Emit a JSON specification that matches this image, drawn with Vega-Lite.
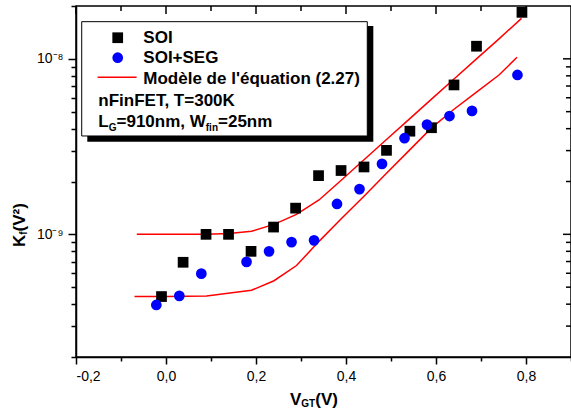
{
  "$schema": "https://vega.github.io/schema/vega-lite/v6.json",
  "width": 495,
  "height": 351,
  "autosize": {"type": "none"},
  "padding": {"left": 76, "top": 6, "right": 0, "bottom": 63},
  "background": "white",
  "config": {
    "view": {"stroke": "black", "strokeWidth": 1.5},
    "axis": {"grid": false, "domainColor": "black", "tickColor": "black", "labelColor": "black", "labelFont": "Liberation Sans", "domainWidth": 1.5, "tickWidth": 1.5}
  },
  "datasets": {
    "soi": [
      {"x": -0.010, "k": 4.42e-10}, {"x": 0.038, "k": 6.93e-10}, {"x": 0.089, "k": 1.0e-9}, {"x": 0.139, "k": 1.0e-9},
      {"x": 0.189, "k": 8.0e-10}, {"x": 0.239, "k": 1.10e-9}, {"x": 0.288, "k": 1.41e-9}, {"x": 0.339, "k": 2.16e-9},
      {"x": 0.389, "k": 2.31e-9}, {"x": 0.440, "k": 2.42e-9}, {"x": 0.490, "k": 3.01e-9}, {"x": 0.542, "k": 3.87e-9},
      {"x": 0.590, "k": 4.05e-9}, {"x": 0.640, "k": 7.10e-9}, {"x": 0.690, "k": 1.18e-8}, {"x": 0.791, "k": 1.84e-8}
    ],
    "seg": [
      {"x": -0.0215, "k": 3.96e-10}, {"x": 0.0296, "k": 4.46e-10}, {"x": 0.0785, "k": 5.97e-10}, {"x": 0.179, "k": 6.97e-10},
      {"x": 0.229, "k": 8.0e-10}, {"x": 0.279, "k": 9.03e-10}, {"x": 0.329, "k": 9.24e-10}, {"x": 0.38, "k": 1.49e-9},
      {"x": 0.43, "k": 1.81e-9}, {"x": 0.48, "k": 2.52e-9}, {"x": 0.53, "k": 3.53e-9}, {"x": 0.58, "k": 4.22e-9},
      {"x": 0.63, "k": 4.72e-9}, {"x": 0.68, "k": 5.05e-9}, {"x": 0.781, "k": 8.09e-9}
    ],
    "model": [
      {"curve": "SOI", "x": -0.065, "k": 1.0e-9}, {"curve": "SOI", "x": 0.0, "k": 1.0e-9}, {"curve": "SOI", "x": 0.09, "k": 1.0e-9},
      {"curve": "SOI", "x": 0.14, "k": 1.01e-9}, {"curve": "SOI", "x": 0.19, "k": 1.04e-9}, {"curve": "SOI", "x": 0.24, "k": 1.14e-9},
      {"curve": "SOI", "x": 0.29, "k": 1.30e-9}, {"curve": "SOI", "x": 0.34, "k": 1.57e-9}, {"curve": "SOI", "x": 0.39, "k": 2.04e-9},
      {"curve": "SOI", "x": 0.44, "k": 2.66e-9}, {"curve": "SOI", "x": 0.49, "k": 3.47e-9}, {"curve": "SOI", "x": 0.54, "k": 4.52e-9},
      {"curve": "SOI", "x": 0.59, "k": 5.89e-9}, {"curve": "SOI", "x": 0.64, "k": 7.67e-9}, {"curve": "SOI", "x": 0.69, "k": 1.0e-8},
      {"curve": "SOI", "x": 0.74, "k": 1.30e-8}, {"curve": "SOI", "x": 0.79, "k": 1.70e-8},
      {"curve": "SEG", "x": -0.07, "k": 4.42e-10}, {"curve": "SEG", "x": 0.0, "k": 4.43e-10}, {"curve": "SEG", "x": 0.09, "k": 4.45e-10},
      {"curve": "SEG", "x": 0.19, "k": 4.80e-10}, {"curve": "SEG", "x": 0.24, "k": 5.44e-10}, {"curve": "SEG", "x": 0.29, "k": 6.64e-10},
      {"curve": "SEG", "x": 0.34, "k": 9.12e-10}, {"curve": "SEG", "x": 0.39, "k": 1.23e-9}, {"curve": "SEG", "x": 0.44, "k": 1.65e-9},
      {"curve": "SEG", "x": 0.49, "k": 2.23e-9}, {"curve": "SEG", "x": 0.54, "k": 3.0e-9}, {"curve": "SEG", "x": 0.59, "k": 4.04e-9},
      {"curve": "SEG", "x": 0.64, "k": 5.16e-9}, {"curve": "SEG", "x": 0.69, "k": 6.46e-9}, {"curve": "SEG", "x": 0.74, "k": 8.09e-9},
      {"curve": "SEG", "x": 0.78, "k": 1.02e-8}
    ],
    "xmajor": [{"v": -0.2}, {"v": 0}, {"v": 0.2}, {"v": 0.4}, {"v": 0.6}, {"v": 0.8}],
    "xminor": [{"v": -0.1}, {"v": 0.1}, {"v": 0.3}, {"v": 0.5}, {"v": 0.7}],
    "ymajor": [{"v": 1e-9}, {"v": 1e-8}],
    "yminor": [{"v": 3e-10}, {"v": 4e-10}, {"v": 5e-10}, {"v": 6e-10}, {"v": 7e-10}, {"v": 8e-10}, {"v": 9e-10},
               {"v": 2e-9}, {"v": 3e-9}, {"v": 4e-9}, {"v": 5e-9}, {"v": 6e-9}, {"v": 7e-9}, {"v": 8e-9}, {"v": 9e-9}],
    "one": [{}]
  },
  "resolve": {"axis": {"x": "independent", "y": "independent"}},
  "layer": [
    {
      "data": {"name": "model"},
      "mark": {"type": "line", "color": "#ff0000", "strokeWidth": 1.5},
      "encoding": {
        "x": {"field": "x", "type": "quantitative", "scale": {"domain": [-0.2, 0.9]},
              "axis": {"orient": "bottom", "title": null,
                       "values": [-0.2, -0.1, 0, 0.1, 0.2, 0.3, 0.4, 0.5, 0.6, 0.7, 0.8, 0.9],
                       "tickSize": {"condition": {"test": "round(datum.value*10) % 2 != 0", "value": 4}, "value": 7},
                       "labelFontSize": 14, "labelPadding": 5,
                       "labelExpr": "round(datum.value*10) % 2 != 0 ? '' : replace(replace(format(datum.value, '.1f'), '.', ','), '−', '-')"}},
        "y": {"field": "k", "type": "quantitative", "scale": {"type": "log", "domain": [2e-10, 2e-8]},
              "axis": {"orient": "left", "title": null,
                       "values": [2e-10, 3e-10, 4e-10, 5e-10, 6e-10, 7e-10, 8e-10, 9e-10, 1e-9, 2e-9, 3e-9, 4e-9, 5e-9, 6e-9, 7e-9, 8e-9, 9e-9, 1e-8, 2e-8],
                       "tickSize": {"condition": {"test": "(datum.value > 0.99e-9 && datum.value < 1.01e-9) || (datum.value > 0.99e-8 && datum.value < 1.01e-8)", "value": 8}, "value": 5},
                       "labelFontSize": 14, "labelPadding": 5,
                       "labelExpr": "(datum.value > 0.99e-9 && datum.value < 1.01e-9) ? '10⁻⁹' : ((datum.value > 0.99e-8 && datum.value < 1.01e-8) ? '10⁻⁸' : '')"}},
        "detail": {"field": "curve"}
      }
    },
    {
      "data": {"name": "soi"},
      "mark": {"type": "point", "shape": "square", "filled": true, "color": "black", "size": 115, "opacity": 1},
      "encoding": {
        "x": {"field": "x", "type": "quantitative", "scale": {"domain": [-0.2, 0.9]}, "axis": null},
        "y": {"field": "k", "type": "quantitative", "scale": {"type": "log", "domain": [2e-10, 2e-8]}, "axis": null}
      }
    },
    {
      "data": {"name": "seg"},
      "mark": {"type": "circle", "color": "#0000ff", "size": 115, "opacity": 1},
      "encoding": {
        "x": {"field": "x", "type": "quantitative", "scale": {"domain": [-0.2, 0.9]}, "axis": null},
        "y": {"field": "k", "type": "quantitative", "scale": {"type": "log", "domain": [2e-10, 2e-8]}, "axis": null}
      }
    },
    {
      "data": {"name": "one"},
      "mark": {"type": "rect", "color": "black"},
      "encoding": {
        "x": {"datum": -0.1749, "type": "quantitative", "scale": {"domain": [-0.2, 0.9]}, "axis": null},
        "x2": {"datum": 0.4607},
        "y": {"datum": 1.538e-8, "type": "quantitative", "scale": {"type": "log", "domain": [2e-10, 2e-8]}, "axis": null},
        "y2": {"datum": 3.371e-9}
      }
    },
    {
      "data": {"name": "one"},
      "mark": {"type": "rect", "fill": "white", "stroke": "black", "strokeWidth": 1},
      "encoding": {
        "x": {"datum": -0.1873, "type": "quantitative", "scale": {"domain": [-0.2, 0.9]}, "axis": null},
        "x2": {"datum": 0.4473},
        "y": {"datum": 1.628e-8, "type": "quantitative", "scale": {"type": "log", "domain": [2e-10, 2e-8]}, "axis": null},
        "y2": {"datum": 3.634e-9}
      }
    },
    {
      "data": {"name": "one"},
      "mark": {"type": "point", "shape": "square", "filled": true, "color": "black", "size": 115, "opacity": 1},
      "encoding": {
        "x": {"datum": -0.1073, "type": "quantitative", "scale": {"domain": [-0.2, 0.9]}, "axis": null},
        "y": {"datum": 1.319e-8, "type": "quantitative", "scale": {"type": "log", "domain": [2e-10, 2e-8]}, "axis": null}
      }
    },
    {
      "data": {"name": "one"},
      "mark": {"type": "circle", "color": "#0000ff", "size": 115, "opacity": 1},
      "encoding": {
        "x": {"datum": -0.1073, "type": "quantitative", "scale": {"domain": [-0.2, 0.9]}, "axis": null},
        "y": {"datum": 1.0148e-8, "type": "quantitative", "scale": {"type": "log", "domain": [2e-10, 2e-8]}, "axis": null}
      }
    },
    {
      "data": {"name": "one"},
      "mark": {"type": "rule", "color": "#ff0000", "strokeWidth": 1.5},
      "encoding": {
        "x": {"datum": -0.152, "type": "quantitative", "scale": {"domain": [-0.2, 0.9]}, "axis": null},
        "x2": {"datum": -0.0653},
        "y": {"datum": 7.846e-9, "type": "quantitative", "scale": {"type": "log", "domain": [2e-10, 2e-8]}, "axis": null}
      }
    },
    {
      "data": {"name": "one"},
      "mark": {"type": "text", "font": "Liberation Sans", "fontWeight": "bold", "fontSize": 17, "align": "left", "baseline": "alphabetic", "color": "black"},
      "encoding": {
        "x": {"datum": -0.0504, "type": "quantitative", "scale": {"domain": [-0.2, 0.9]}, "axis": null},
        "y": {"datum": 1.2352e-8, "type": "quantitative", "scale": {"type": "log", "domain": [2e-10, 2e-8]}, "axis": null},
        "text": {"value": "SOI"}
      }
    },
    {
      "data": {"name": "one"},
      "mark": {"type": "text", "font": "Liberation Sans", "fontWeight": "bold", "fontSize": 17, "align": "left", "baseline": "alphabetic", "color": "black"},
      "encoding": {
        "x": {"datum": -0.0504, "type": "quantitative", "scale": {"domain": [-0.2, 0.9]}, "axis": null},
        "y": {"datum": 9.43e-9, "type": "quantitative", "scale": {"type": "log", "domain": [2e-10, 2e-8]}, "axis": null},
        "text": {"value": "SOI+SEG"}
      }
    },
    {
      "data": {"name": "one"},
      "mark": {"type": "text", "font": "Liberation Sans", "fontWeight": "bold", "fontSize": 17, "align": "left", "baseline": "alphabetic", "color": "black"},
      "encoding": {
        "x": {"datum": -0.0504, "type": "quantitative", "scale": {"domain": [-0.2, 0.9]}, "axis": null},
        "y": {"datum": 7.188e-9, "type": "quantitative", "scale": {"type": "log", "domain": [2e-10, 2e-8]}, "axis": null},
        "text": {"value": "Modèle de l'équation (2.27)"}
      }
    },
    {
      "data": {"name": "one"},
      "mark": {"type": "text", "font": "Liberation Sans", "fontWeight": "bold", "fontSize": 17, "align": "left", "baseline": "alphabetic", "color": "black"},
      "encoding": {
        "x": {"datum": -0.1504, "type": "quantitative", "scale": {"domain": [-0.2, 0.9]}, "axis": null},
        "y": {"datum": 5.363e-9, "type": "quantitative", "scale": {"type": "log", "domain": [2e-10, 2e-8]}, "axis": null},
        "text": {"value": "nFinFET, T=300K"}
      }
    },
    {
      "data": {"name": "one"},
      "mark": {"type": "text", "font": "Liberation Sans", "fontWeight": "bold", "fontSize": 17, "align": "left", "baseline": "alphabetic", "color": "black"},
      "encoding": {
        "x": {"datum": -0.1504, "type": "quantitative", "scale": {"domain": [-0.2, 0.9]}, "axis": null},
        "y": {"datum": 4.115e-9, "type": "quantitative", "scale": {"type": "log", "domain": [2e-10, 2e-8]}, "axis": null},
        "text": {"value": "L"}
      }
    },
    {
      "data": {"name": "one"},
      "mark": {"type": "text", "font": "Liberation Sans", "fontWeight": "bold", "fontSize": 10, "align": "left", "baseline": "alphabetic", "color": "black"},
      "encoding": {
        "x": {"datum": -0.1273, "type": "quantitative", "scale": {"domain": [-0.2, 0.9]}, "axis": null},
        "y": {"datum": 3.905e-9, "type": "quantitative", "scale": {"type": "log", "domain": [2e-10, 2e-8]}, "axis": null},
        "text": {"value": "G"}
      }
    },
    {
      "data": {"name": "one"},
      "mark": {"type": "text", "font": "Liberation Sans", "fontWeight": "bold", "fontSize": 17, "align": "left", "baseline": "alphabetic", "color": "black"},
      "encoding": {
        "x": {"datum": -0.11, "type": "quantitative", "scale": {"domain": [-0.2, 0.9]}, "axis": null},
        "y": {"datum": 4.115e-9, "type": "quantitative", "scale": {"type": "log", "domain": [2e-10, 2e-8]}, "axis": null},
        "text": {"value": "=910nm, W"}
      }
    },
    {
      "data": {"name": "one"},
      "mark": {"type": "text", "font": "Liberation Sans", "fontWeight": "bold", "fontSize": 10, "align": "left", "baseline": "alphabetic", "color": "black"},
      "encoding": {
        "x": {"datum": 0.0884, "type": "quantitative", "scale": {"domain": [-0.2, 0.9]}, "axis": null},
        "y": {"datum": 3.905e-9, "type": "quantitative", "scale": {"type": "log", "domain": [2e-10, 2e-8]}, "axis": null},
        "text": {"value": "fin"}
      }
    },
    {
      "data": {"name": "one"},
      "mark": {"type": "text", "font": "Liberation Sans", "fontWeight": "bold", "fontSize": 17, "align": "left", "baseline": "alphabetic", "color": "black"},
      "encoding": {
        "x": {"datum": 0.1156, "type": "quantitative", "scale": {"domain": [-0.2, 0.9]}, "axis": null},
        "y": {"datum": 4.115e-9, "type": "quantitative", "scale": {"type": "log", "domain": [2e-10, 2e-8]}, "axis": null},
        "text": {"value": "=25nm"}
      }
    },
    {
      "data": {"name": "one"},
      "mark": {"type": "text", "font": "Liberation Sans", "fontWeight": "bold", "fontSize": 17, "align": "left", "baseline": "alphabetic", "color": "black"},
      "encoding": {
        "x": {"datum": 0.2756, "type": "quantitative", "scale": {"domain": [-0.2, 0.9]}, "axis": null},
        "y": {"datum": 1.0654e-10, "type": "quantitative", "scale": {"type": "log", "domain": [2e-10, 2e-8]}, "axis": null},
        "text": {"value": "V"}
      }
    },
    {
      "data": {"name": "one"},
      "mark": {"type": "text", "font": "Liberation Sans", "fontWeight": "bold", "fontSize": 10, "align": "left", "baseline": "alphabetic", "color": "black"},
      "encoding": {
        "x": {"datum": 0.3007, "type": "quantitative", "scale": {"domain": [-0.2, 0.9]}, "axis": null},
        "y": {"datum": 1.0377e-10, "type": "quantitative", "scale": {"type": "log", "domain": [2e-10, 2e-8]}, "axis": null},
        "text": {"value": "GT"}
      }
    },
    {
      "data": {"name": "one"},
      "mark": {"type": "text", "font": "Liberation Sans", "fontWeight": "bold", "fontSize": 17, "align": "left", "baseline": "alphabetic", "color": "black"},
      "encoding": {
        "x": {"datum": 0.3316, "type": "quantitative", "scale": {"domain": [-0.2, 0.9]}, "axis": null},
        "y": {"datum": 1.0654e-10, "type": "quantitative", "scale": {"type": "log", "domain": [2e-10, 2e-8]}, "axis": null},
        "text": {"value": "(V)"}
      }
    },
    {
      "data": {"name": "one"},
      "mark": {"type": "text", "font": "Liberation Sans", "fontWeight": "bold", "fontSize": 17, "align": "left", "baseline": "alphabetic", "angle": 270, "color": "black"},
      "encoding": {
        "x": {"datum": -0.3133, "type": "quantitative", "scale": {"domain": [-0.2, 0.9]}, "axis": null},
        "y": {"datum": 8.467e-10, "type": "quantitative", "scale": {"type": "log", "domain": [2e-10, 2e-8]}, "axis": null},
        "text": {"value": "K"}
      }
    },
    {
      "data": {"name": "one"},
      "mark": {"type": "text", "font": "Liberation Sans", "fontWeight": "bold", "fontSize": 10, "align": "left", "baseline": "alphabetic", "angle": 270, "color": "black"},
      "encoding": {
        "x": {"datum": -0.3089, "type": "quantitative", "scale": {"domain": [-0.2, 0.9]}, "axis": null},
        "y": {"datum": 9.951e-10, "type": "quantitative", "scale": {"type": "log", "domain": [2e-10, 2e-8]}, "axis": null},
        "text": {"value": "f"}
      }
    },
    {
      "data": {"name": "one"},
      "mark": {"type": "text", "font": "Liberation Sans", "fontWeight": "bold", "fontSize": 17, "align": "left", "baseline": "alphabetic", "angle": 270, "color": "black"},
      "encoding": {
        "x": {"datum": -0.3133, "type": "quantitative", "scale": {"domain": [-0.2, 0.9]}, "axis": null},
        "y": {"datum": 1.0392e-9, "type": "quantitative", "scale": {"type": "log", "domain": [2e-10, 2e-8]}, "axis": null},
        "text": {"value": "(V²)"}
      }
    },
    {
      "data": {"name": "xmajor"},
      "mark": {"type": "rule", "color": "black", "strokeWidth": 1.5},
      "encoding": {
        "x": {"field": "v", "type": "quantitative", "scale": {"domain": [-0.2, 0.9]}, "axis": null},
        "y": {"datum": 2e-8, "type": "quantitative", "scale": {"type": "log", "domain": [2e-10, 2e-8]}, "axis": null},
        "y2": {"datum": 1.8e-8}
      }
    },
    {
      "data": {"name": "xminor"},
      "mark": {"type": "rule", "color": "black", "strokeWidth": 1.5},
      "encoding": {
        "x": {"field": "v", "type": "quantitative", "scale": {"domain": [-0.2, 0.9]}, "axis": null},
        "y": {"datum": 2e-8, "type": "quantitative", "scale": {"type": "log", "domain": [2e-10, 2e-8]}, "axis": null},
        "y2": {"datum": 1.874e-8}
      }
    },
    {
      "data": {"name": "ymajor"},
      "mark": {"type": "rule", "color": "black", "strokeWidth": 1.5},
      "encoding": {
        "y": {"field": "v", "type": "quantitative", "scale": {"type": "log", "domain": [2e-10, 2e-8]}, "axis": null},
        "x": {"datum": 0.9, "type": "quantitative", "scale": {"domain": [-0.2, 0.9]}, "axis": null},
        "x2": {"datum": 0.8822}
      }
    },
    {
      "data": {"name": "yminor"},
      "mark": {"type": "rule", "color": "black", "strokeWidth": 1.5},
      "encoding": {
        "y": {"field": "v", "type": "quantitative", "scale": {"type": "log", "domain": [2e-10, 2e-8]}, "axis": null},
        "x": {"datum": 0.9, "type": "quantitative", "scale": {"domain": [-0.2, 0.9]}, "axis": null},
        "x2": {"datum": 0.8889}
      }
    }
  ]
}
